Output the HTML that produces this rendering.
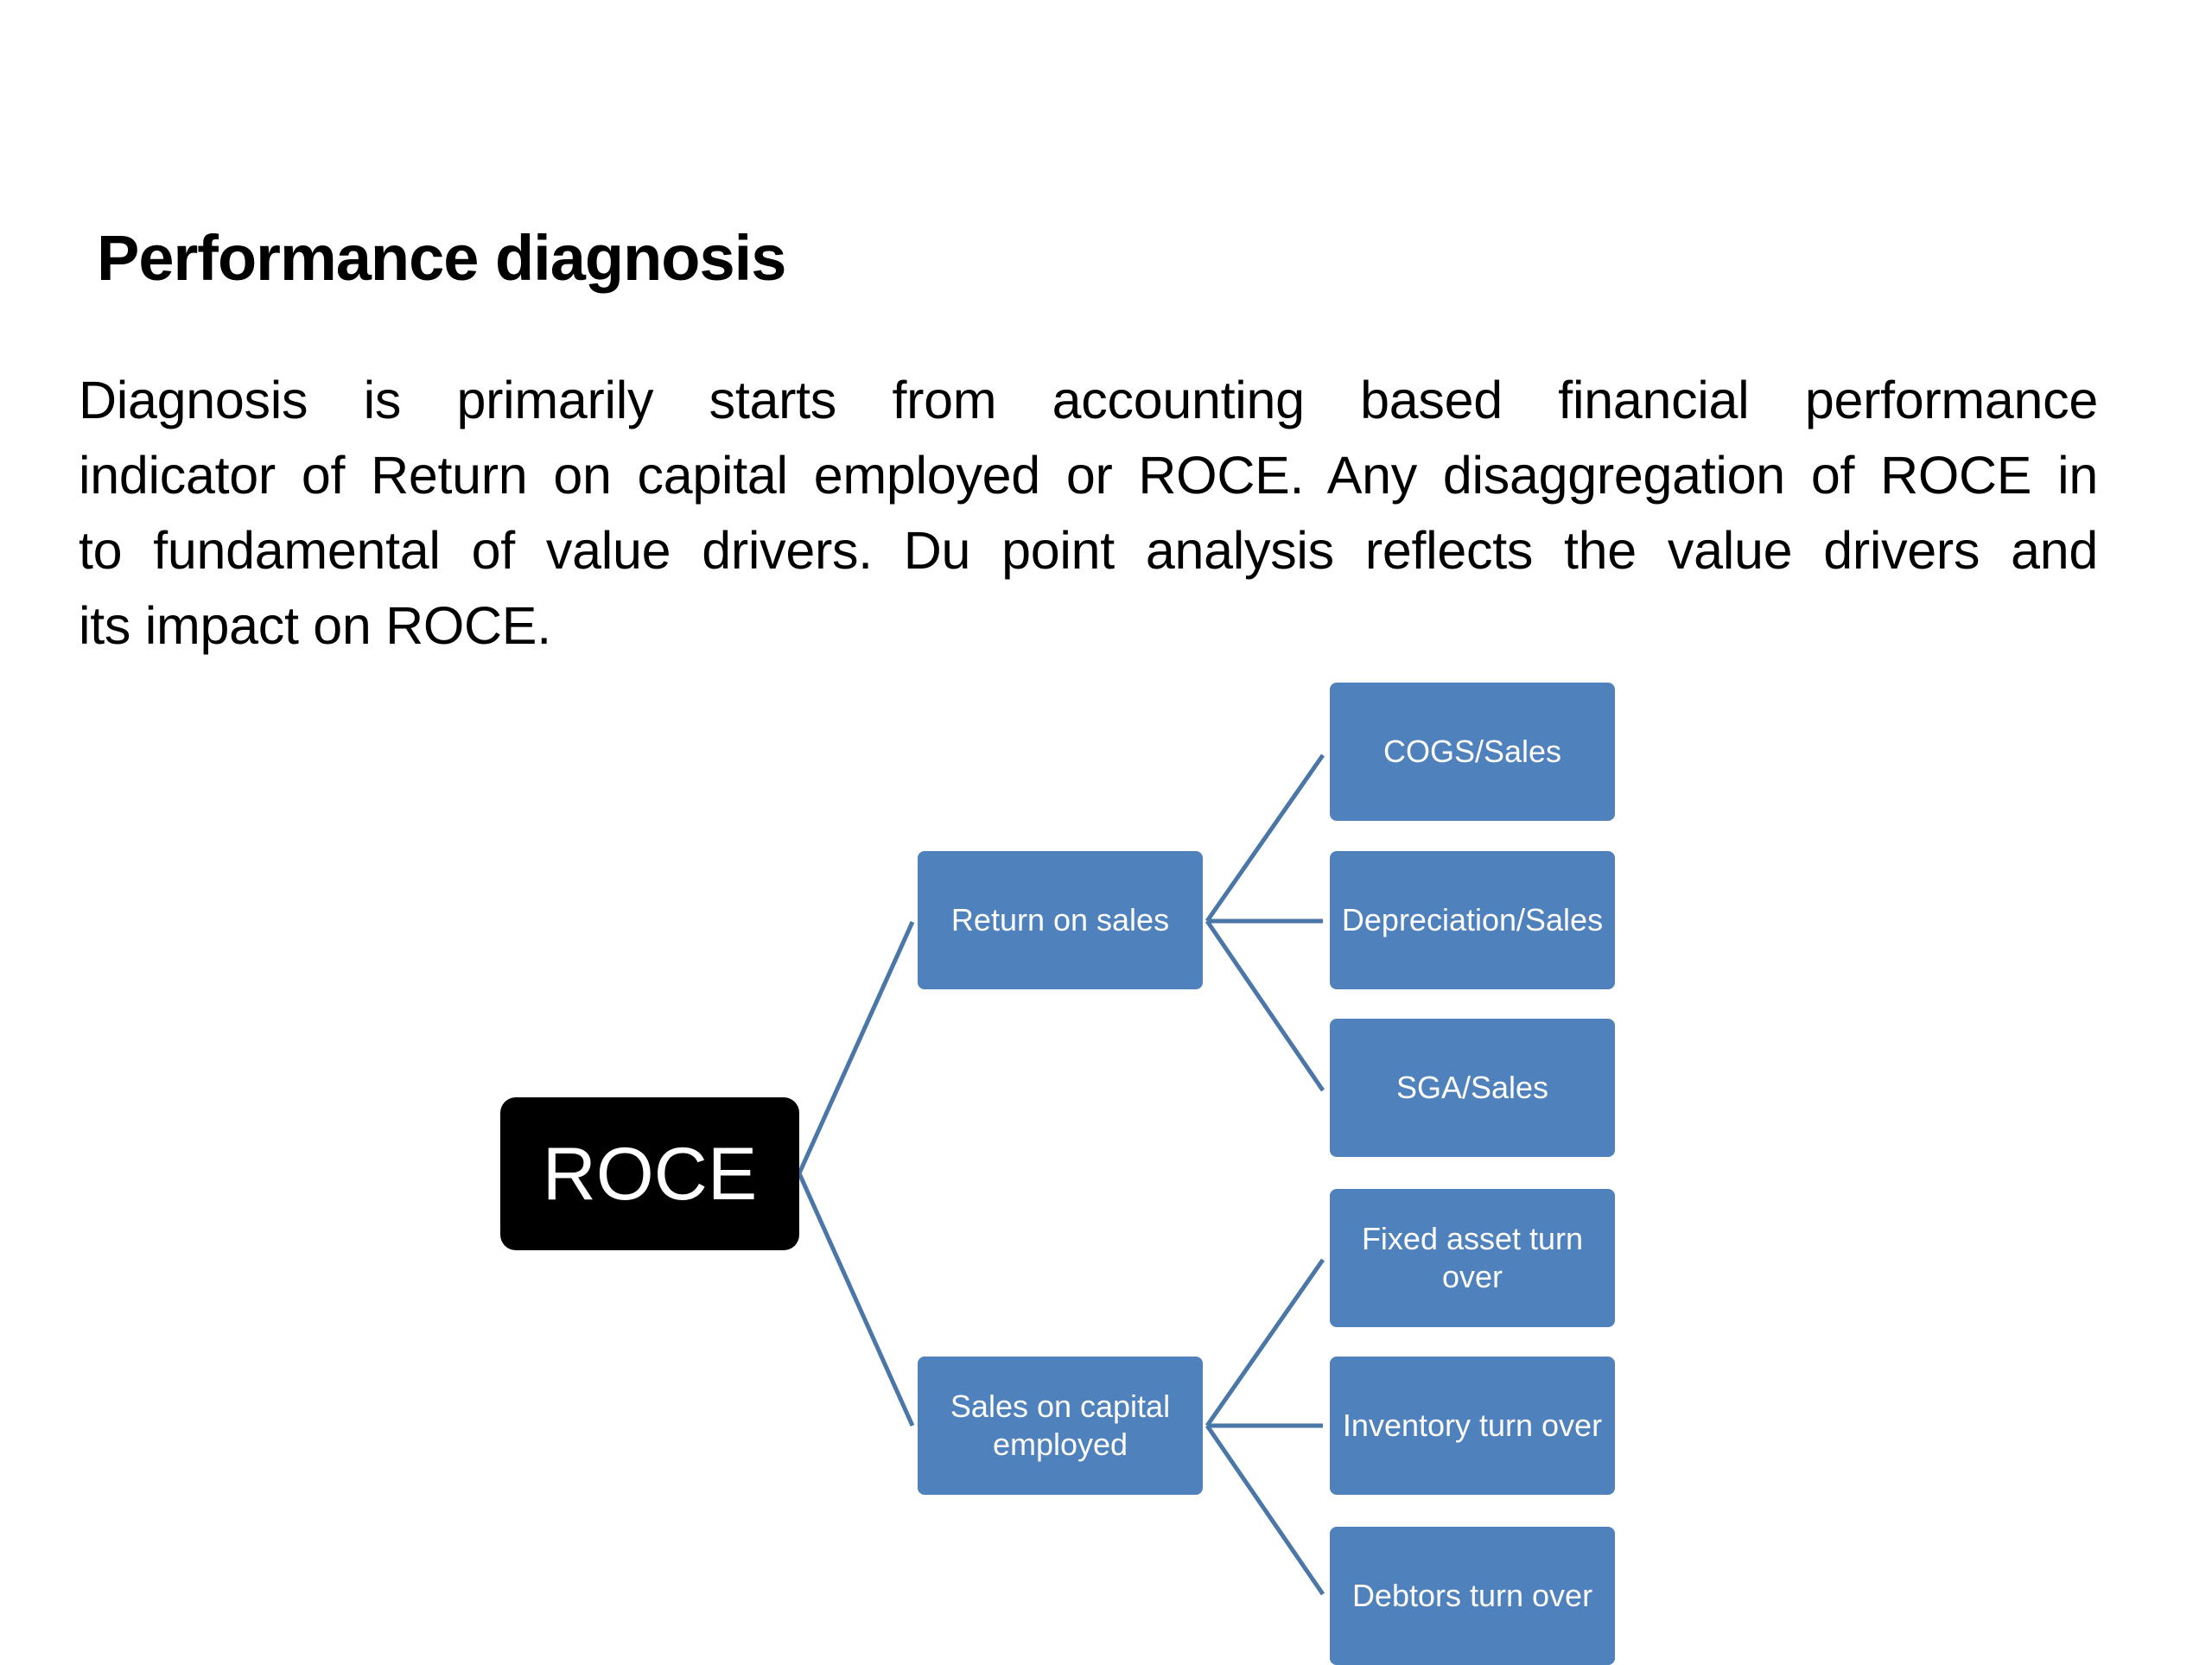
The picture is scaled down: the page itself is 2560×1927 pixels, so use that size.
<!DOCTYPE html>
<html><head><meta charset="utf-8"><style>
body{margin:0;width:2560px;height:1920px;background:#fff;position:relative;overflow:hidden;font-family:"Liberation Sans",sans-serif;}
.t{position:absolute;left:112px;top:256px;font-size:74px;font-weight:bold;color:#000;letter-spacing:-1px;}
.p{position:absolute;left:91px;width:2337px;font-size:61px;color:#000;text-align:justify;text-align-last:justify;white-space:nowrap;letter-spacing:-0.3px;}
.b{position:absolute;width:330px;height:160px;background:#4f81bd;border-radius:8px;color:#fff;font-size:36px;display:flex;align-items:center;justify-content:center;text-align:center;line-height:44px;}
</style></head><body>
<div class="t">Performance diagnosis</div>
<div class="p" style="top:428px">Diagnosis is primarily starts from accounting based financial performance</div>
<div class="p" style="top:515px">indicator of Return on capital employed or ROCE. Any disaggregation of ROCE in</div>
<div class="p" style="top:602px">to fundamental of value drivers. Du point analysis reflects the value drivers and</div>
<div class="p" style="top:689px;text-align-last:left">its impact on ROCE.</div>
<svg style="position:absolute;left:0;top:0" width="2560" height="1920">
<g stroke="#4a76a8" stroke-width="5" fill="none">
<path d="M925 1358 L1056 1067 M925 1358 L1056 1650"/>
<path d="M1397 1066 L1531 874 M1397 1066 L1531 1066 M1397 1066 L1531 1262"/>
<path d="M1397 1650 L1531 1458 M1397 1650 L1531 1650 M1397 1650 L1531 1845"/>
</g></svg>
<div class="b" style="left:579px;top:1270px;width:346px;height:177px;background:#000;border-radius:18px;font-size:86px;">ROCE</div>
<div class="b" style="left:1062px;top:985px;">Return on sales</div>
<div class="b" style="left:1062px;top:1570px;">Sales on capital<br>employed</div>
<div class="b" style="left:1539px;top:790px;">COGS/Sales</div>
<div class="b" style="left:1539px;top:985px;">Depreciation/Sales</div>
<div class="b" style="left:1539px;top:1179px;">SGA/Sales</div>
<div class="b" style="left:1539px;top:1376px;">Fixed asset turn<br>over</div>
<div class="b" style="left:1539px;top:1570px;">Inventory turn over</div>
<div class="b" style="left:1539px;top:1767px;">Debtors turn over</div>
</body></html>
